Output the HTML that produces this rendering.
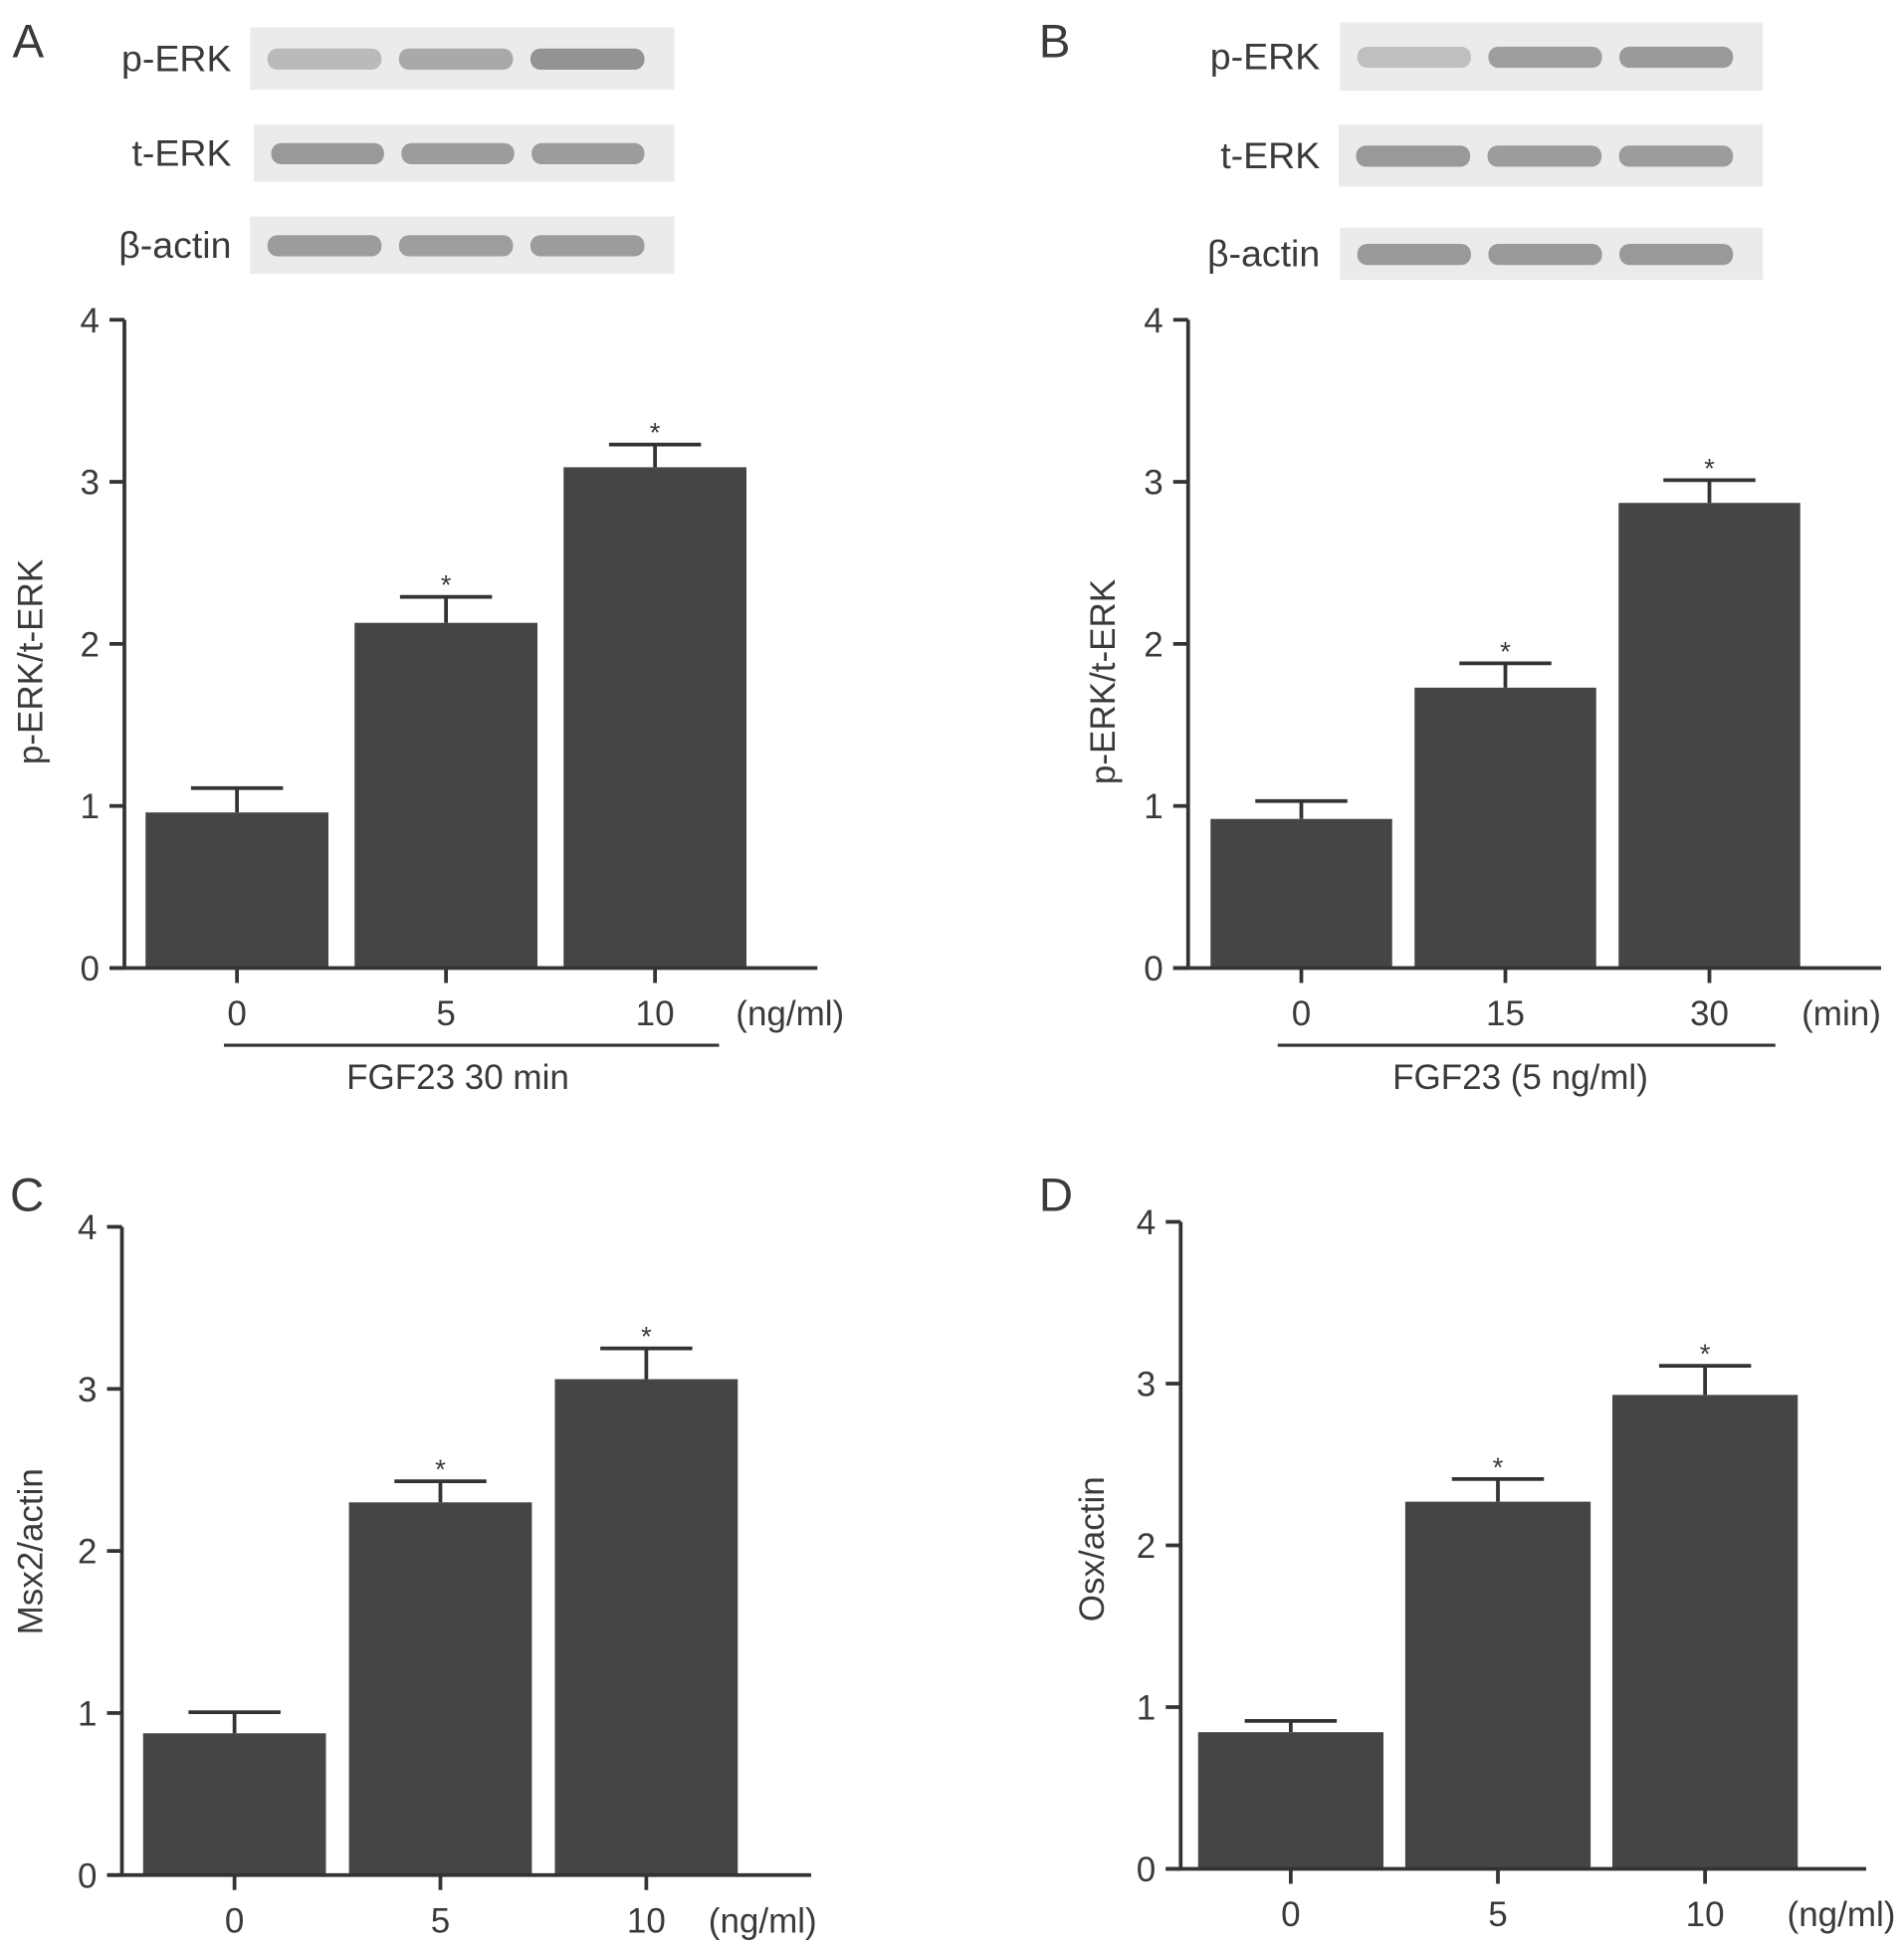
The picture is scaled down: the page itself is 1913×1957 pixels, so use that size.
<!DOCTYPE html>
<html><head><meta charset="utf-8"><style>
html,body{margin:0;padding:0;background:#fff;}
svg{display:block;}
text{font-family:"Liberation Sans",sans-serif;fill:#3a3a3a;}
</style></head><body>
<svg id="fig" width="1913" height="1957" viewBox="0 0 1530.4 1565.6" preserveAspectRatio="none" xmlns="http://www.w3.org/2000/svg"></svg>
<script>
const NS='http://www.w3.org/2000/svg';
const svg=document.getElementById('fig');
// ---- data ----
const catsA=['0','5','10'];
const valsA=[0.96,2.13,3.09];
const errA=[0.15,0.16,0.14];
const sigA=[false,true,true];
const catsB=['0','15','30'];
const valsB=[0.92,1.73,2.87];
const errB=[0.11,0.15,0.14];
const sigB=[false,true,true];
const catsC=['0','5','10'];
const valsC=[0.875,2.30,3.06];
const errC=[0.13,0.13,0.19];
const sigC=[false,true,true];
const catsD=['0','5','10'];
const valsD=[0.845,2.27,2.93];
const errD=[0.07,0.14,0.18];
const sigD=[false,true,true];
const yTicks=['0','1','2','3','4'];
const blotRows=['p-ERK','t-ERK','β-actin'];
const bandA=[[0.45,0.6,0.8],[0.75,0.72,0.72],[0.72,0.7,0.72]];
const bandB=[[0.4,0.7,0.75],[0.75,0.72,0.72],[0.75,0.75,0.75]];

function el(tag,attrs,parent,txt){const e=document.createElementNS(NS,tag);for(const k in attrs)e.setAttribute(k,attrs[k]);if(txt!==undefined)e.textContent=txt;(parent||svg).appendChild(e);return e;}

function panel(cfg){
  const g=el('g',{});
  
  
  const y=v=>cfg.y0-(v/4)*(cfg.y0-cfg.y4);
  const stroke='#333';
  cfg.vals.forEach((v,i)=>{
    const x=cfg.barX0+i*cfg.step;
    const cx=x+cfg.barW/2;
    const top=y(v), et=y(v+cfg.err[i]);
    const l=el('line',{x1:cx,y1:top,x2:cx,y2:et,stroke:stroke,'stroke-width':3},g);
    
    
    const c=el('line',{x1:cx-37,y1:et,x2:cx+37,y2:et,stroke:stroke,'stroke-width':3},g);
    
    
    const r=el('rect',{x:x,y:top,width:cfg.barW,height:cfg.y0-top,fill:'#454545'},g);
    
    
    if(cfg.sig[i]){const s=el('text',{x:cx,y:et-2,'text-anchor':'middle','font-size':22},g,'*');
      
      }
    const t=el('line',{x1:cx,y1:cfg.y0,x2:cx,y2:cfg.y0+12,stroke:stroke,'stroke-width':3},g);
    
    
    const tl=el('text',{x:cx,y:cfg.y0+46,'text-anchor':'middle','font-size':28},g,cfg.cats[i]);
    
    
  });
  const ya=el('line',{x1:cfg.ax,y1:cfg.y4,x2:cfg.ax,y2:cfg.y0,stroke:stroke,'stroke-width':3},g);
  
  
  const xa=el('line',{x1:cfg.ax-12,y1:cfg.y0,x2:cfg.xEnd,y2:cfg.y0,stroke:stroke,'stroke-width':3},g);
  
  
  yTicks.forEach((t,i)=>{
    const yy=y(+t);
    const tk=el('line',{x1:cfg.ax-12,y1:yy,x2:cfg.ax,y2:yy,stroke:stroke,'stroke-width':3},g);
    
    
    const tt=el('text',{x:cfg.ax-20,y:yy+10,'text-anchor':'end','font-size':28},g,t);
    
    
  });
  const yl=el('text',{x:0,y:0,'text-anchor':'middle','font-size':28,transform:`translate(${cfg.ylX},${cfg.ylY}) rotate(-90)`},g,cfg.ylabel);
  
  
  const un=el('text',{x:cfg.unitX,y:cfg.y0+46,'text-anchor':'middle','font-size':28},g,cfg.unit);
  
  
  if(cfg.under){
    const ul=el('line',{x1:cfg.under[0],y1:cfg.y0+62,x2:cfg.under[1],y2:cfg.y0+62,stroke:stroke,'stroke-width':2.5},g);
    
    
    const ut=el('text',{x:cfg.under[2],y:cfg.y0+97,'text-anchor':'middle','font-size':28},g,cfg.under[3]);
    
    
  }
  const L=el('text',{x:cfg.letter[0],y:cfg.letter[1],'font-size':38},g,cfg.letter[2]);
  
  
}

function blots(cfg){
  const g=el('g',{});
  
  
  blotRows.forEach((lab,r)=>{
    const [x,yy,w,h]=cfg.boxes[r];
    const b=el('rect',{x:x,y:yy,width:w,height:h,fill:'#ebebeb'},g);
    
    
    const t=el('text',{x:cfg.labX,y:yy+h/2+10,'text-anchor':'end','font-size':30},g,lab);
    
    
    cfg.bands[r].forEach((d,i)=>{
      const bx=x+12+i*(w-24)/3+2, bw=(w-24)/3-14;
      const c=Math.round(235-d*110);
      const bd=el('rect',{x:bx,y:yy+h/2-8,width:bw,height:17,rx:8,fill:`rgb(${c},${c},${c})`},g);
      
      
    });
  });
}

blots({name:'blot-a',labX:186,boxes:[[201,22,341,50],[204,100,338,46],[201,174,341,46]],bands:bandA});
blots({name:'blot-b',labX:1061,boxes:[[1077,18,340,55],[1076,100,341,50],[1077,183,340,42]],bands:bandB});

panel({name:'panel-a',cats:catsA,vals:valsA,err:errA,sig:sigA,ax:100,y0:778,y4:257,xEnd:657,barX0:117,step:168,barW:147,
  ylabel:'p-ERK/t-ERK',ylX:34,ylY:532,unit:'(ng/ml)',unitX:635,under:[180,578,368,'FGF23 30 min'],letter:[10,46,'A']});
panel({name:'panel-b',cats:catsB,vals:valsB,err:errB,sig:sigB,ax:955,y0:778,y4:257,xEnd:1512,barX0:973,step:164,barW:146,
  ylabel:'p-ERK/t-ERK',ylX:896,ylY:548,unit:'(min)',unitX:1480,under:[1027,1427,1222,'FGF23 (5 ng/ml)'],letter:[835,46,'B']});
panel({name:'panel-c',cats:catsC,vals:valsC,err:errC,sig:sigC,ax:98,y0:1507,y4:986,xEnd:652,barX0:115,step:165.5,barW:147,
  ylabel:'Msx2/actin',ylX:34,ylY:1247,unit:'(ng/ml)',unitX:613,under:null,letter:[8,973,'C']});
panel({name:'panel-d',cats:catsD,vals:valsD,err:errD,sig:sigD,ax:949,y0:1502,y4:982,xEnd:1500,barX0:963,step:166.5,barW:149,
  ylabel:'Osx/actin',ylX:887,ylY:1245,unit:'(ng/ml)',unitX:1480,under:null,letter:[835,973,'D']});
</script>
</body></html>
